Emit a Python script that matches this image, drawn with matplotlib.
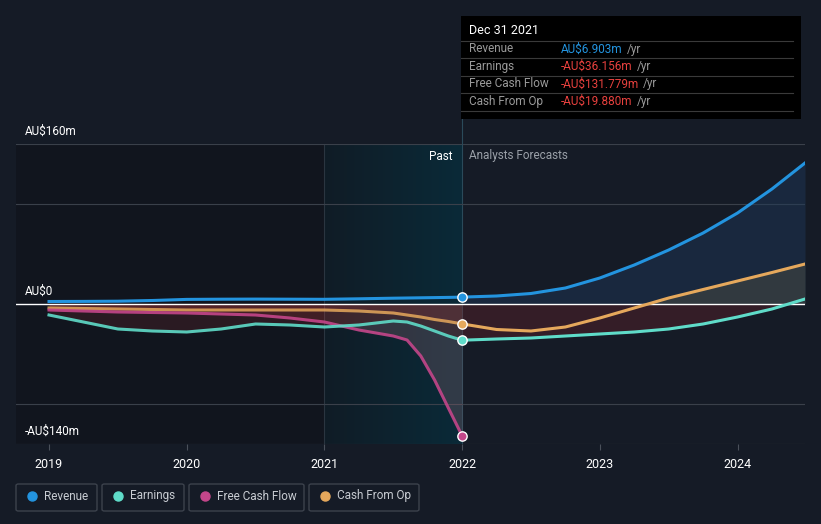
import numpy as np
import matplotlib.pyplot as plt
from matplotlib.patches import Rectangle, FancyBboxPatch
from matplotlib.colors import LinearSegmentedColormap

# data (AU$ m)
past_x = [2019.0, 2019.25, 2019.5, 2019.75, 2020.0, 2020.25, 2020.5, 2020.75, 2021.0, 2021.25, 2021.5,
          2021.6, 2021.7, 2021.8, 2021.9, 2022.0]
rev_past = [2.5, 2.6, 2.8, 3.5, 4.6, 4.8, 4.9, 4.8, 4.7, 5.2, 5.8, 6.0, 6.2, 6.4, 6.6, 6.9]
earn_past = [-11, -18, -25, -27, -28, -25, -20, -21, -23, -21, -17, -18, -22, -27, -32, -36.2]
fcf_past = [-6, -7, -8, -8.5, -9, -10, -11, -14, -18, -26, -32, -36, -52, -76, -104, -131.8]
cfo_past = [-4, -4.5, -5, -5.5, -6, -6, -6, -6, -6, -7, -9, -11, -13, -15.5, -17.5, -19.9]

fc_x = [2022.0, 2022.25, 2022.5, 2022.75, 2023.0, 2023.25, 2023.5, 2023.75, 2024.0, 2024.25, 2024.49]
rev_fc = [6.9, 8, 10.5, 16, 26, 39, 54, 71, 91, 115, 141]
earn_fc = [-36.2, -35, -34, -32, -30, -28, -25, -20, -13, -5, 5]
cfo_fc = [-19.9, -25.5, -27, -23, -14, -4, 6, 14.5, 23, 31.5, 40]

years = [2019, 2020, 2021, 2022, 2023, 2024]
tooltip_rows = [("Revenue", "AU$6.903m", "#2394df"),
                ("Earnings", "-AU$36.156m", "#e8413e"),
                ("Free Cash Flow", "-AU$131.779m", "#e8413e"),
                ("Cash From Op", "-AU$19.880m", "#e8413e")]

BG = "#151b26"
C_REV = "#2394df"
C_EARN = "#5fdcc9"
C_FCF = "#c4468a"
C_CFO = "#e5a85c"

plt.rcParams['font.family'] = ['Roboto', 'DejaVu Sans']
fig = plt.figure(figsize=(8.21, 5.24), dpi=100, facecolor=BG)
W, H = 821, 524


def fx(px):
    return px / W


def fy(py):
    return 1 - py / H


ax = fig.add_axes([fx(16), fy(444), fx(805) - fx(16), fy(144) - fy(444)])
ax.set_facecolor(BG)
x0, x1 = 2019 - 33 / 137.7, 2024.49
ax.set_xlim(x0, x1)
ax.set_ylim(-140, 160)
for s in ax.spines.values():
    s.set_visible(False)
ax.set_yticks([])
ax.set_xticks(years)
ax.set_xticklabels([str(y) for y in years], color="white", fontsize=9)
ax.tick_params(axis="x", length=4, color="#4a505a", pad=6)

# past background shading
ax.axvspan(x0, 2021, color="#0f1219", alpha=0.6, zorder=0, lw=0)
grad = np.linspace(0, 1, 256).reshape(1, -1)
cm = LinearSegmentedColormap.from_list("t", ["#101c26", "#0a2a38"])
ax.imshow(grad, extent=[2021, 2022, -140, 160], aspect="auto", cmap=cm, zorder=0.5)
ax.axvline(2021, color="#2a3540", lw=0.8, zorder=1)
ax.axvline(2022, color="#2a4a5a", lw=0.8, zorder=1)

# grid
for g in [160, 100, -100, -140]:
    ax.axhline(g, color="#3a404a", lw=0.8, zorder=1)
ax.axhline(0, color="white", lw=1.0, zorder=3)

# fills
for s in [earn_past, fcf_past, cfo_past]:
    ax.fill_between(past_x, s, 0, color="#e0443f", alpha=0.12, lw=0, zorder=2)
ax.fill_between(past_x, fcf_past, earn_past, where=np.array(fcf_past) < np.array(earn_past),
                color="#8090a8", alpha=0.15, lw=0, zorder=2, interpolate=True)
ax.fill_between(fc_x, rev_fc, 0, color="#1e3a5c", alpha=0.45, lw=0, zorder=2)
cfo_arr = np.array(cfo_fc)
ax.fill_between(fc_x, cfo_fc, 0, where=cfo_arr > 0, interpolate=True,
                color="#4a4a40", alpha=0.5, lw=0, zorder=2)
ax.fill_between(fc_x, earn_fc, 0, where=np.array(earn_fc) < 0, interpolate=True,
                color="#4a1f28", alpha=0.6, lw=0, zorder=2)

# lines
lw = 2.2
ax.plot(past_x, cfo_past, color=C_CFO, lw=lw, zorder=4, alpha=0.85, solid_joinstyle="round")
ax.plot(past_x, fcf_past, color=C_FCF, lw=lw, zorder=4, alpha=0.9, solid_joinstyle="round")
ax.plot(past_x, earn_past, color=C_EARN, lw=lw, zorder=4, alpha=0.9, solid_joinstyle="round")
ax.plot(past_x, rev_past, color=C_REV, lw=lw, zorder=5)
ax.plot(fc_x, cfo_fc, color=C_CFO, lw=lw, zorder=4, solid_joinstyle="round")
ax.plot(fc_x, earn_fc, color=C_EARN, lw=lw, zorder=4, solid_joinstyle="round")
ax.plot(fc_x, rev_fc, color=C_REV, lw=lw, zorder=5, solid_joinstyle="round")

for s, c in [(rev_past, C_REV), (earn_past, C_EARN), (fcf_past, C_FCF), (cfo_past, C_CFO)]:
    ax.scatter([past_x[-1]], [s[-1]], s=45, color=c, edgecolor="white", linewidth=1, zorder=6)

ax.text(2022 - 0.07, 148, "Past", color="white", fontsize=8.5, ha="right", va="center", zorder=7)
ax.text(2022 + 0.05, 148, "Analysts Forecasts", color="#9aa0a8", fontsize=8.5, ha="left", va="center", zorder=7)

# y labels
fig.text(fx(25), fy(131), "AU$160m", color="white", fontsize=8.5, va="center")
fig.text(fx(25), fy(291), "AU$0", color="white", fontsize=8.5, va="center")
fig.text(fx(25), fy(431), "-AU$140m", color="white", fontsize=8.5, va="center")

# tooltip
fig.add_artist(Rectangle((fx(461), fy(119)), fx(801) - fx(461), fy(16) - fy(119),
                         transform=fig.transFigure, facecolor="black", edgecolor="none", zorder=10))
fig.add_artist(plt.Line2D([fx(462), fx(462)], [fy(119), fy(144)], transform=fig.transFigure,
                          color="#2a4a5a", lw=0.8))
fig.text(fx(469), fy(31), "Dec 31 2021", color="white", fontsize=9, va="center", zorder=11)
for i, (lab, val, col) in enumerate(tooltip_rows):
    yy = 49 + i * 17.5
    fig.add_artist(plt.Line2D([fx(461), fx(793)], [fy(yy - 8.5), fy(yy - 8.5)], transform=fig.transFigure,
                              color="#3a3a3a", lw=0.8, zorder=11))
    fig.text(fx(469), fy(yy), lab, color="#9a9a9a", fontsize=8.5, va="center", zorder=11)
    t = fig.text(fx(561), fy(yy), val, color=col, fontsize=8.5, va="center", zorder=11)
    fig.canvas.draw()
    bb = t.get_window_extent()
    fig.text(bb.x1 / fig.dpi / fig.get_figwidth() + fx(4), fy(yy), "/yr", color="#9a9a9a",
             fontsize=8.5, va="center", zorder=11)
fig.add_artist(plt.Line2D([fx(461), fx(793)], [fy(111), fy(111)], transform=fig.transFigure,
                          color="#3a3a3a", lw=0.8, zorder=11))

# legend boxes
legend = [("Revenue", C_REV, 16, 97), ("Earnings", C_EARN, 102, 184),
          ("Free Cash Flow", C_FCF, 189, 304), ("Cash From Op", C_CFO, 309, 419)]
for lab, col, l, r in legend:
    fig.add_artist(FancyBboxPatch((fx(l), fy(511)), fx(r) - fx(l), fy(484) - fy(511),
                                  boxstyle="round,pad=0,rounding_size=0.003", transform=fig.transFigure,
                                  facecolor=BG, edgecolor="#3c424c", lw=1))
    fig.add_artist(plt.Line2D([fx(l + 16)], [fy(496)], marker="o", markersize=6.5, color=col,
                              transform=fig.transFigure, lw=0))
    fig.text(fx(l + 28), fy(496), lab, color="#c8ccd2", fontsize=8.5, va="center")

fig.savefig("out.png", dpi=100, facecolor=BG)
